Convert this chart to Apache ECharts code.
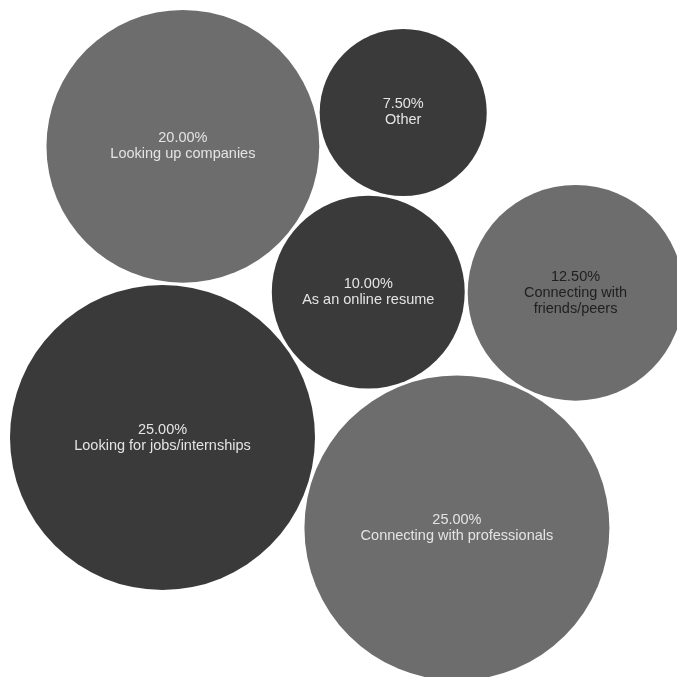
<!DOCTYPE html>
<html>
<head>
<meta charset="utf-8">
<style>
  html, body { margin: 0; padding: 0; background: #ffffff; }
  #chart { width: 677px; height: 677px; }
</style>
<script src="https://cdn.jsdelivr.net/npm/echarts@6/dist/echarts.min.js"></script>
</head>
<body>
<div id="chart"></div>
<script>
// Share of respondents by how they use the network (percent)
const names = [
  'Looking up companies',
  'Other',
  'As an online resume',
  'Connecting with friends/peers',
  'Looking for jobs/internships',
  'Connecting with professionals'
];
const shares = [20, 7.5, 10, 12.5, 25, 25];
const tones = ['light', 'dark', 'dark', 'light', 'dark', 'light'];

// Label text as it is set inside each bubble
const labelLines = [
  'Looking up companies',
  'Other',
  'As an online resume',
  'Connecting with\nfriends/peers',
  'Looking for jobs/internships',
  'Connecting with professionals'
];

// Styling
const fill = { light: '#6d6d6d', dark: '#3a3a3a' };
const textTone = ['#e4e4e4', '#e4e4e4', '#e4e4e4', '#202020', '#e4e4e4', '#e4e4e4'];

// Bubble area is proportional to the share
const radiusScale = 30.5;   // px per sqrt(percent)
const gap = 3;              // px between neighbouring bubbles
const radius = shares.map(v => radiusScale * Math.sqrt(v));

// Front-chain packing: each bubble sits against two already placed ones
const seed = 4;             // first bubble
const anchor = [162.5, 437.5];
const second = { idx: 0, from: 4, angleDeg: 86 };
const chain = [
  { idx: 2, a: 4, b: 0, side: 1 },
  { idx: 1, a: 0, b: 2, side: -1 },
  { idx: 5, a: 4, b: 2, side: 1 },
  { idx: 3, a: 2, b: 5, side: -1 }
];

const pos = new Array(names.length);
pos[seed] = anchor.slice();
{
  const d = radius[second.from] + radius[second.idx] + gap;
  const t = second.angleDeg * Math.PI / 180;
  const p = pos[second.from];
  pos[second.idx] = [p[0] + d * Math.cos(t), p[1] - d * Math.sin(t)];
}
chain.forEach(step => {
  const A = pos[step.a], B = pos[step.b];
  const rc = radius[step.idx];
  const da = radius[step.a] + rc + gap;
  const db = radius[step.b] + rc + gap;
  const dx = B[0] - A[0], dy = B[1] - A[1];
  const d = Math.hypot(dx, dy);
  const ux = dx / d, uy = dy / d;
  const nx = -uy, ny = ux;
  const a = (da * da - db * db + d * d) / (2 * d);
  const h = Math.sqrt(Math.max(0, da * da - a * a));
  pos[step.idx] = [
    A[0] + a * ux + step.side * h * nx,
    A[1] + a * uy + step.side * h * ny
  ];
});

const data = names.map((n, i) => ({
  name: n,
  value: [pos[i][0], pos[i][1], shares[i]],
  symbolSize: radius[i] * 2,
  itemStyle: { color: fill[tones[i]], opacity: 1 },
  label: {
    color: textTone[i],
    formatter: shares[i].toFixed(2) + '%\n' + labelLines[i]
  }
}));

const chart = echarts.init(document.getElementById('chart'), null, { renderer: 'canvas' });
chart.setOption({
  animation: false,
  backgroundColor: '#ffffff',
  grid: { left: 0, right: 0, top: 0, bottom: 0 },
  xAxis: { type: 'value', min: 0, max: 677, show: false },
  yAxis: { type: 'value', min: 0, max: 677, inverse: true, show: false },
  series: [{
    type: 'scatter',
    symbol: 'circle',
    data: data,
    emphasis: { disabled: true },
    label: {
      show: true,
      position: 'inside',
      fontFamily: 'Liberation Sans, Arial, sans-serif',
      fontSize: 14.5,
      lineHeight: 16,
      align: 'center'
    }
  }]
});
</script>
</body>
</html>
